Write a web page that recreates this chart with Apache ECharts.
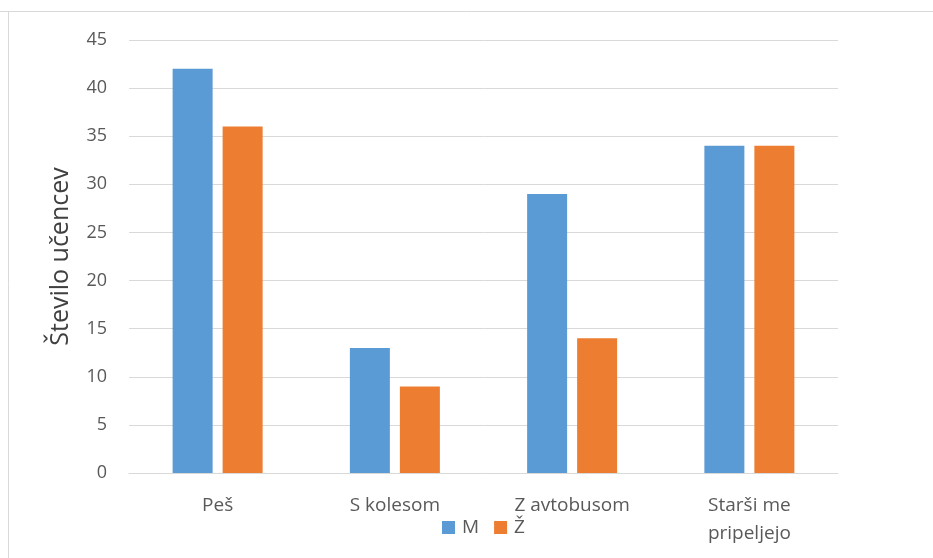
<!DOCTYPE html>
<html>
<head>
<meta charset="utf-8">
<script src="https://cdn.jsdelivr.net/npm/echarts@6/dist/echarts.min.js"></script>
<style>
  html, body { margin: 0; padding: 0; background: #ffffff; }
  #chart { width: 933px; height: 558px; }
</style>
</head>
<body>
<div id="chart"></div>
<script>
// Način prihoda v šolo
const categories = ['Peš', 'S kolesom', 'Z avtobusom', 'Starši me\npripeljejo'];
const boys = [42, 13, 29, 34];
const girls = [36, 9, 14, 34];
const yTicks = { min: 0, max: 45, interval: 5 };

const font = '"Open Sans", "Noto Sans", sans-serif';
const textColor = '#595959';
const gridColor = '#d9d9d9';

const chart = echarts.init(document.getElementById('chart'), null, { renderer: 'canvas' });
chart.setOption({
  backgroundColor: '#ffffff',
  animation: false,
  textStyle: { fontFamily: font, color: textColor },
  graphic: [
    { type: 'line', shape: { x1: 0, y1: 11.5, x2: 933, y2: 11.5 }, style: { stroke: '#d9d9d9', lineWidth: 1 } },
    { type: 'line', shape: { x1: 8.5, y1: 11, x2: 8.5, y2: 558 }, style: { stroke: '#d9d9d9', lineWidth: 1 } }
  ],
  grid: { left: 129, right: 95, top: 40, bottom: 85, containLabel: false },
  legend: {
    left: 437, top: 513,
    itemWidth: 13, itemHeight: 13, itemGap: 15,
    icon: 'rect',
    textStyle: { fontFamily: font, fontSize: 19, color: textColor, padding: [0, 0, 0, 2] },
    data: ['M', 'Ž']
  },
  xAxis: {
    type: 'category',
    data: categories,
    axisLine: { lineStyle: { color: gridColor, width: 1 } },
    axisTick: { show: false },
    axisLabel: { fontFamily: font, fontSize: 19, color: textColor, margin: 19, lineHeight: 28, verticalAlign: 'top' }
  },
  yAxis: {
    type: 'value',
    min: yTicks.min, max: yTicks.max, interval: yTicks.interval,
    name: 'Število učencev',
    nameLocation: 'middle',
    nameGap: 56,
    nameRotate: 90,
    nameTextStyle: { fontFamily: font, fontSize: 25, color: '#404040' },
    axisLine: { show: false },
    axisTick: { show: false },
    splitLine: { lineStyle: { color: gridColor, width: 1 } },
    axisLabel: { fontFamily: font, fontSize: 18, color: textColor, margin: 22 }
  },
  series: [
    { name: 'M', type: 'bar', data: boys, barWidth: 40, barGap: '25%', itemStyle: { color: '#5b9bd5' } },
    { name: 'Ž', type: 'bar', data: girls, barWidth: 40, itemStyle: { color: '#ed7d31' } }
  ]
});
</script>
</body>
</html>
